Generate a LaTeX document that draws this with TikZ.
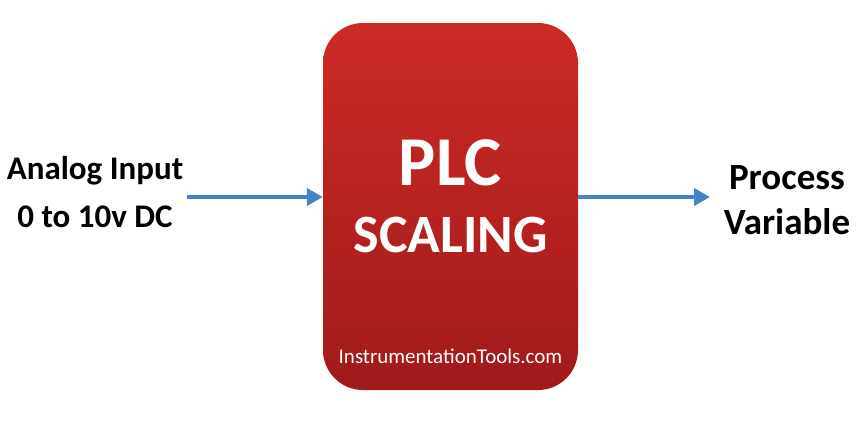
\documentclass[tikz,border=0pt]{standalone}
\usepackage{fontspec}
\setmainfont{Carlito}
\usepackage{tikz}
\usetikzlibrary{arrows.meta}
\usetikzlibrary{positioning}
\definecolor{plctop}{RGB}{204,42,38}
\definecolor{plcbottom}{RGB}{160,26,27}
\definecolor{flowblue}{RGB}{64,134,196}
\tikzset{plcbox/.style={rounded corners=40pt, top color=plctop,
    bottom color=plcbottom, draw=none,
    minimum width=255pt, minimum height=367pt, inner sep=0pt},
  sidetext/.style={align=center, font=\bfseries},
  flow/.style={-{Triangle[length=16pt,width=17pt]}, line width=4pt,
    draw=flowblue}}

\begin{document}
\begin{tikzpicture}[x=1pt,y=-1pt]

    \useasboundingbox (0,0) rectangle (860,424);

    \node[plcbox]
      (PLC) at (450.5,206.5) {};
    \node[anchor=base, text=white, font=\fontsize{70}{70}\selectfont\bfseries]
      (PlcTitle) at (450.5,185) {PLC};
    \node[anchor=base, text=white, font=\fontsize{54}{54}\selectfont\bfseries]
      (Scaling) at (450.5,252) {SCALING};
    \node[anchor=base, text=white, font=\fontsize{21}{21}\selectfont]
      (Site) at (450.5,363) {InstrumentationTools.com};

    \node[sidetext, font=\fontsize{33}{48}\selectfont\bfseries]
      (Input) at (95,192) {Analog Input\\0 to 10v DC};
    \node[sidetext, font=\fontsize{37}{45}\selectfont\bfseries]
      (Output) at (787,200) {Process\\Variable};
    \coordinate (FlowLevel) at (0,197);
    \coordinate (OutTip) at (710,197);

    \draw[flow] (Input.east |- FlowLevel) -- (PLC.west |- FlowLevel);
    \draw[flow] (PLC.east |- FlowLevel) -- (OutTip);

  \end{tikzpicture}
\end{document}
